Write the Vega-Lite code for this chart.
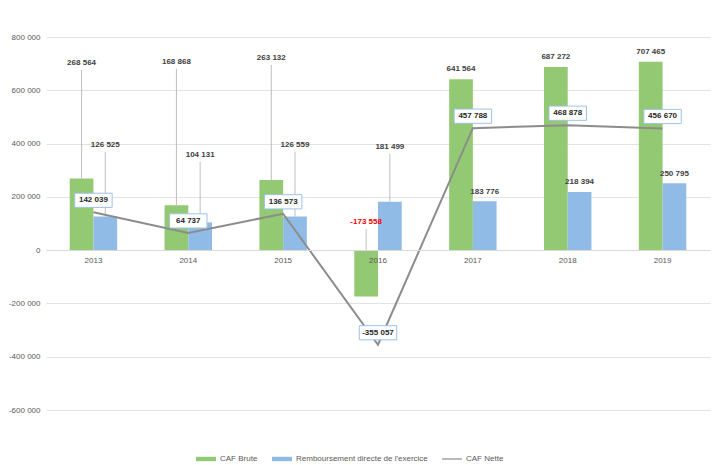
{
  "$schema": "https://vega.github.io/schema/vega-lite/v6.json",
  "autosize": {"type": "none"},
  "width": 664,
  "height": 373,
  "padding": {"left": 46, "top": 37, "right": 4, "bottom": 55},
  "background": "white",
  "config": {
    "view": {"stroke": null},
    "font": "Liberation Sans",
    "locale": {"number": {"decimal": ",", "thousands": " ", "grouping": [3], "currency": ["", " €"], "minus": "-"}}
  },
  "data": {
    "values": [
      {"annee": "2013", "serie": "CAF Brute", "valeur": 268564},
      {"annee": "2013", "serie": "Remboursement directe de l'exercice", "valeur": 126525},
      {"annee": "2013", "serie": "CAF Nette", "valeur": 142039},
      {"annee": "2014", "serie": "CAF Brute", "valeur": 168868},
      {"annee": "2014", "serie": "Remboursement directe de l'exercice", "valeur": 104131},
      {"annee": "2014", "serie": "CAF Nette", "valeur": 64737},
      {"annee": "2015", "serie": "CAF Brute", "valeur": 263132},
      {"annee": "2015", "serie": "Remboursement directe de l'exercice", "valeur": 126559},
      {"annee": "2015", "serie": "CAF Nette", "valeur": 136573},
      {"annee": "2016", "serie": "CAF Brute", "valeur": -173558},
      {"annee": "2016", "serie": "Remboursement directe de l'exercice", "valeur": 181499},
      {"annee": "2016", "serie": "CAF Nette", "valeur": -355057},
      {"annee": "2017", "serie": "CAF Brute", "valeur": 641564},
      {"annee": "2017", "serie": "Remboursement directe de l'exercice", "valeur": 183776},
      {"annee": "2017", "serie": "CAF Nette", "valeur": 457788},
      {"annee": "2018", "serie": "CAF Brute", "valeur": 687272},
      {"annee": "2018", "serie": "Remboursement directe de l'exercice", "valeur": 218394},
      {"annee": "2018", "serie": "CAF Nette", "valeur": 468878},
      {"annee": "2019", "serie": "CAF Brute", "valeur": 707465},
      {"annee": "2019", "serie": "Remboursement directe de l'exercice", "valeur": 250795},
      {"annee": "2019", "serie": "CAF Nette", "valeur": 456670}
    ]
  },
  "transform": [
    {"calculate": "datum.serie == 'CAF Nette' ? datum.valeur + 45000 : datum.serie == 'CAF Brute' ? (datum.annee == '2013' ? 702000 : datum.annee == '2014' ? 706000 : datum.annee == '2015' ? 720000 : datum.annee == '2016' ? 105000 : datum.valeur + 38000) : (datum.annee == '2013' ? 394000 : datum.annee == '2014' ? 357000 : datum.annee == '2015' ? 394000 : datum.annee == '2016' ? 387000 : datum.valeur + 36000)", "as": "ly"},
    {"calculate": "max(datum.valeur, 0)", "as": "lstart"},
    {"calculate": "datum.ly - 25000", "as": "lend"}
  ],
  "encoding": {
    "x": {
      "field": "annee", "type": "ordinal",
      "scale": {"paddingInner": 0.5, "paddingOuter": 0.25},
      "axis": {"title": null, "offset": -160, "domain": true, "domainColor": "#d9d9d9", "ticks": false, "labelPadding": 6, "labelFontSize": 8, "labelColor": "#595959", "labelAngle": 0, "grid": false, "zindex": 1}
    }
  },
  "layer": [
    {
      "transform": [{"filter": "datum.serie != 'CAF Nette'"}],
      "mark": {"type": "bar"},
      "encoding": {
        "xOffset": {"field": "serie", "type": "nominal", "scale": {"domain": ["CAF Brute", "Remboursement directe de l'exercice"], "paddingInner": 0}},
        "y": {
          "field": "valeur", "type": "quantitative",
          "scale": {"domain": [-600000, 800000], "nice": false},
          "axis": {"title": null, "values": [-600000, -400000, -200000, 0, 200000, 400000, 600000, 800000], "format": ",d", "domain": false, "ticks": false, "labelPadding": 6, "labelFontSize": 8, "labelColor": "#595959", "gridColor": "#e3e3e3"}
        },
        "color": {
          "field": "serie", "type": "nominal",
          "scale": {"domain": ["CAF Brute", "Remboursement directe de l'exercice", "CAF Nette"], "range": ["#93c972", "#8fbbe6", "#8c8c8c"]},
          "legend": {
            "orient": "none", "legendX": 150, "legendY": 412, "direction": "horizontal", "title": null,
            "labelFontSize": 8, "labelColor": "#595959", "symbolSize": 400, "columnPadding": 14, "symbolStrokeWidth": 0,
            "encode": {"symbols": {"update": {"shape": {"signal": "datum.value == 'CAF Nette' ? 'M-1,-0.06H1V0.06H-1Z' : 'M-1,-0.22H1V0.22H-1Z'"}}}}
          }
        }
      }
    },
    {
      "transform": [{"filter": "datum.serie != 'CAF Nette' && toNumber(datum.annee) <= 2016"}],
      "mark": {"type": "rule", "color": "#bfbfbf", "strokeWidth": 1},
      "encoding": {
        "xOffset": {"field": "serie", "type": "nominal"},
        "y": {"field": "lstart", "type": "quantitative"},
        "y2": {"field": "lend"}
      }
    },
    {
      "transform": [{"filter": "datum.serie != 'CAF Nette'"}],
      "mark": {"type": "text", "fontSize": 8, "fontWeight": "bold"},
      "encoding": {
        "xOffset": {"field": "serie", "type": "nominal"},
        "y": {"field": "ly", "type": "quantitative"},
        "text": {"field": "valeur", "type": "quantitative", "format": ",d"},
        "color": {"condition": {"test": "datum.valeur < 0", "value": "#ff0000"}, "value": "#404040"}
      }
    },
    {
      "transform": [{"filter": "datum.serie == 'CAF Nette'"}],
      "mark": {"type": "line", "color": "#8c8c8c", "strokeWidth": 2},
      "encoding": {
        "y": {"field": "valeur", "type": "quantitative"}
      }
    },
    {
      "transform": [{"filter": "datum.serie == 'CAF Nette'"}],
      "mark": {"type": "point", "shape": "M-1,-0.38H1V0.38H-1Z", "size": 1400, "filled": true, "fill": "white", "stroke": "#9dc3e6", "strokeWidth": 1, "opacity": 1},
      "encoding": {
        "y": {"field": "ly", "type": "quantitative"}
      }
    },
    {
      "transform": [{"filter": "datum.serie == 'CAF Nette'"}],
      "mark": {"type": "text", "fontSize": 8, "fontWeight": "bold", "color": "#262626"},
      "encoding": {
        "y": {"field": "ly", "type": "quantitative"},
        "text": {"field": "valeur", "type": "quantitative", "format": ",d"}
      }
    }
  ]
}
